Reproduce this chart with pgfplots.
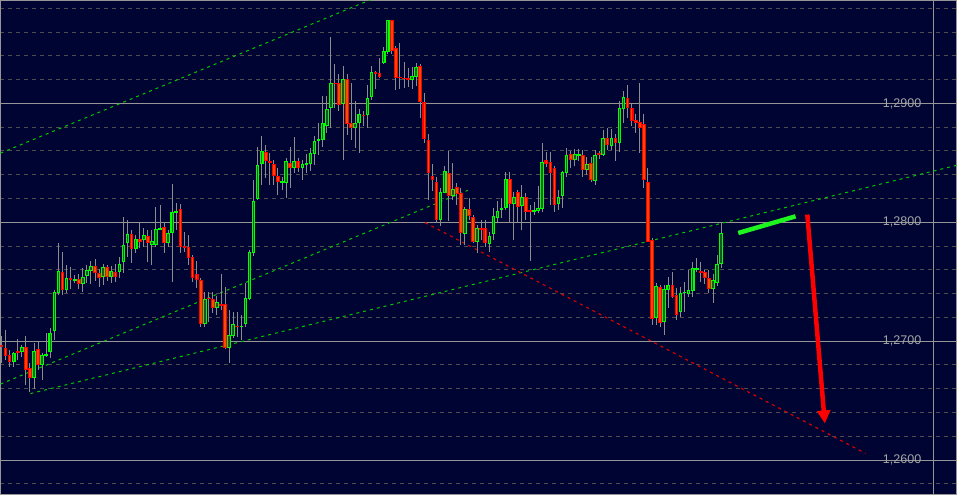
\documentclass[border=0pt]{standalone}
\usepackage{fontspec}
\setmainfont{Liberation Sans}
\usepackage{pgfplots}
\usepackage{pgfplotstable}
\pgfplotsset{compat=1.18}
\usetikzlibrary{arrows.meta}
\definecolor{bgnavy}{RGB}{0,4,50}
\definecolor{gridsolid}{RGB}{150,150,150}
\definecolor{griddash}{RGB}{78,78,78}
\definecolor{wick}{RGB}{140,140,140}
\definecolor{bullline}{RGB}{0,255,0}
\definecolor{bullfill}{RGB}{20,90,30}
\definecolor{bearline}{RGB}{255,0,0}
\definecolor{bearfill}{RGB}{255,75,0}
\definecolor{trendgreen}{RGB}{0,200,0}
\definecolor{trendred}{RGB}{215,0,0}
\definecolor{labelgrey}{RGB}{165,165,165}
\definecolor{markgreen}{RGB}{30,245,30}

\pgfplotstableread{
i o h l c
0 1.26966 1.27042 1.26815 1.26958
1 1.26941 1.27092 1.26840 1.26882
2 1.26882 1.26924 1.26782 1.26832
3 1.26832 1.26908 1.26782 1.26899
4 1.26916 1.27017 1.26840 1.26908
5 1.26916 1.26966 1.26866 1.26950
6 1.26950 1.27042 1.26630 1.26765
7 1.26773 1.26815 1.26571 1.26698
8 1.26698 1.26983 1.26597 1.26916
9 1.26933 1.26992 1.26756 1.26807
10 1.26807 1.26899 1.26672 1.26882
11 1.26882 1.27067 1.26866 1.26891
12 1.26916 1.27109 1.26857 1.27067
13 1.27092 1.27429 1.27008 1.27412
14 1.27412 1.27824 1.27387 1.27588
15 1.27580 1.27748 1.27387 1.27437
16 1.27437 1.27639 1.27403 1.27529
17 1.27529 1.27622 1.27437 1.27525
18 1.27517 1.27555 1.27487 1.27521
19 1.27521 1.27563 1.27437 1.27487
20 1.27487 1.27613 1.27412 1.27538
21 1.27555 1.27639 1.27487 1.27597
22 1.27597 1.27672 1.27479 1.27630
23 1.27630 1.27689 1.27504 1.27580
24 1.27571 1.27605 1.27454 1.27538
25 1.27546 1.27647 1.27471 1.27622
26 1.27622 1.27639 1.27504 1.27546
27 1.27546 1.27630 1.27487 1.27588
28 1.27580 1.27647 1.27496 1.27546
29 1.27588 1.27706 1.27529 1.27647
30 1.27672 1.28042 1.27571 1.27807
31 1.27832 1.28017 1.27706 1.27899
32 1.27899 1.27933 1.27656 1.27782
33 1.27782 1.27891 1.27740 1.27857
34 1.27857 1.27992 1.27782 1.27840
35 1.27857 1.27950 1.27790 1.27891
36 1.27882 1.27933 1.27664 1.27832
37 1.27815 1.27933 1.27639 1.27840
38 1.27815 1.28126 1.27790 1.27941
39 1.27941 1.28143 1.27933 1.27950
40 1.27958 1.28000 1.27740 1.27832
41 1.27832 1.27933 1.27790 1.27908
42 1.27916 1.28319 1.27496 1.28084
43 1.28086 1.28160 1.27933 1.28092
44 1.28109 1.28151 1.27740 1.27798
45 1.27798 1.27916 1.27748 1.27790
46 1.27790 1.27891 1.27639 1.27706
47 1.27706 1.27723 1.27496 1.27538
48 1.27563 1.27672 1.27445 1.27521
49 1.27513 1.27529 1.27118 1.27151
50 1.27151 1.27412 1.27118 1.27353
51 1.27361 1.27412 1.27160 1.27357
52 1.27353 1.27412 1.27235 1.27286
53 1.27286 1.27378 1.27218 1.27328
54 1.27311 1.27563 1.27260 1.27303
55 1.27311 1.27454 1.26933 1.26950
56 1.26950 1.27260 1.26815 1.27050
57 1.27050 1.27244 1.27025 1.27143
58 1.27126 1.27244 1.27034 1.27122
59 1.27122 1.27218 1.27008 1.27126
60 1.27151 1.27487 1.27118 1.27361
61 1.27361 1.27765 1.27345 1.27748
62 1.27748 1.28353 1.27714 1.28176
63 1.28202 1.28630 1.28185 1.28479
64 1.28496 1.28723 1.28311 1.28597
65 1.28588 1.28647 1.28370 1.28521
66 1.28508 1.28580 1.28311 1.28504
67 1.28487 1.28521 1.28311 1.28395
68 1.28387 1.28454 1.28227 1.28345
69 1.28340 1.28378 1.28269 1.28345
70 1.28336 1.28538 1.28202 1.28513
71 1.28496 1.28630 1.28286 1.28462
72 1.28462 1.28723 1.28420 1.28513
73 1.28513 1.28546 1.28420 1.28462
74 1.28462 1.28521 1.28353 1.28487
75 1.28492 1.28571 1.28412 1.28496
76 1.28496 1.28630 1.28437 1.28580
77 1.28580 1.28731 1.28479 1.28681
78 1.28693 1.28832 1.28563 1.28697
79 1.28697 1.29059 1.28630 1.28832
80 1.28815 1.29059 1.28748 1.28950
81 1.28966 1.29563 1.28798 1.29168
82 1.29172 1.29336 1.28966 1.29168
83 1.29168 1.29244 1.28941 1.28992
84 1.29000 1.29319 1.28521 1.29202
85 1.29202 1.29244 1.28731 1.28832
86 1.28832 1.29176 1.28689 1.28798
87 1.28798 1.29017 1.28622 1.28832
88 1.28840 1.28958 1.28588 1.28908
89 1.28903 1.28941 1.28815 1.28899
90 1.28908 1.29160 1.28798 1.29042
91 1.29059 1.29319 1.29025 1.29260
92 1.29260 1.29277 1.29126 1.29256
93 1.29252 1.29378 1.29210 1.29227
94 1.29345 1.29479 1.29336 1.29437
95 1.29437 1.29706 1.29420 1.29697
96 1.29697 1.29706 1.29420 1.29445
97 1.29462 1.29479 1.29109 1.29218
98 1.29223 1.29513 1.29126 1.29218
99 1.29214 1.29353 1.29134 1.29210
100 1.29210 1.29303 1.29143 1.29206
101 1.29202 1.29303 1.29126 1.29227
102 1.29227 1.29345 1.29151 1.29303
103 1.29311 1.29336 1.28882 1.29017
104 1.29008 1.29092 1.28664 1.28706
105 1.28689 1.28748 1.28185 1.28420
106 1.28387 1.28496 1.28269 1.28361
107 1.28336 1.28378 1.27992 1.28025
108 1.28025 1.28286 1.27966 1.28252
109 1.28252 1.28471 1.28244 1.28429
110 1.28412 1.28597 1.28008 1.28227
111 1.28227 1.28496 1.28185 1.28277
112 1.28294 1.28328 1.28143 1.28244
113 1.28244 1.28286 1.27807 1.27916
114 1.27908 1.28126 1.27807 1.28109
115 1.28109 1.28202 1.28017 1.28059
116 1.28042 1.28059 1.27824 1.27840
117 1.27840 1.27975 1.27740 1.27950
118 1.27950 1.28017 1.27849 1.27945
119 1.27950 1.28017 1.27790 1.27832
120 1.27824 1.27916 1.27748 1.27882
121 1.27908 1.28118 1.27849 1.28050
122 1.28042 1.28176 1.28000 1.28092
123 1.28113 1.28202 1.28034 1.28118
124 1.28126 1.28420 1.28101 1.28361
125 1.28361 1.28420 1.27992 1.28160
126 1.28160 1.28252 1.27849 1.28210
127 1.28252 1.28269 1.27992 1.28134
128 1.28143 1.28311 1.27933 1.28210
129 1.28210 1.28244 1.28017 1.28092
130 1.28097 1.28143 1.27672 1.28092
131 1.28097 1.28168 1.28059 1.28101
132 1.28101 1.28303 1.28076 1.28118
133 1.28118 1.28664 1.28084 1.28504
134 1.28521 1.28588 1.28462 1.28496
135 1.28504 1.28588 1.28143 1.28420
136 1.28454 1.28479 1.28084 1.28151
137 1.28160 1.28269 1.28101 1.28210
138 1.28227 1.28437 1.28118 1.28420
139 1.28420 1.28630 1.28378 1.28563
140 1.28571 1.28605 1.28462 1.28529
141 1.28529 1.28622 1.28479 1.28571
142 1.28567 1.28622 1.28521 1.28571
143 1.28563 1.28605 1.28378 1.28445
144 1.28445 1.28546 1.28395 1.28487
145 1.28496 1.28546 1.28336 1.28361
146 1.28353 1.28605 1.28311 1.28563
147 1.28576 1.28605 1.28538 1.28571
148 1.28571 1.28782 1.28563 1.28706
149 1.28706 1.28790 1.28605 1.28655
150 1.28647 1.28782 1.28605 1.28706
151 1.28706 1.28748 1.28521 1.28672
152 1.28672 1.29025 1.28588 1.28958
153 1.28958 1.29101 1.28840 1.29050
154 1.29042 1.29160 1.28882 1.28966
155 1.28958 1.29000 1.28815 1.28857
156 1.28857 1.28908 1.28756 1.28840
157 1.28840 1.29176 1.28580 1.28798
158 1.28824 1.28908 1.28286 1.28361
159 1.28336 1.28462 1.27832 1.27840
160 1.27849 1.27866 1.27134 1.27193
161 1.27202 1.27487 1.27134 1.27462
162 1.27454 1.27471 1.27118 1.27160
163 1.27168 1.27471 1.27050 1.27437
164 1.27437 1.27538 1.27277 1.27471
165 1.27471 1.27580 1.27361 1.27378
166 1.27387 1.27445 1.27176 1.27227
167 1.27252 1.27454 1.27202 1.27403
168 1.27408 1.27496 1.27244 1.27412
169 1.27403 1.27597 1.27370 1.27429
170 1.27429 1.27664 1.27370 1.27613
171 1.27609 1.27697 1.27580 1.27613
172 1.27588 1.27664 1.27496 1.27584
173 1.27580 1.27597 1.27487 1.27538
174 1.27529 1.27597 1.27403 1.27445
175 1.27445 1.27563 1.27319 1.27513
176 1.27496 1.27723 1.27462 1.27647
177 1.27655 1.28008 1.27613 1.27908
}\candles

\begin{document}
\begin{tikzpicture}
\begin{axis}[
  scale only axis, width=957bp, height=495bp,
  xmin=-0.2457, xmax=234.89, ymin=1.25706, ymax=1.29866,
  axis background/.style={fill=bgnavy},
  axis line style={draw=gridsolid, line width=1bp},
  xtick=\empty,
  ytick={1.26,1.27,1.28,1.29},
  minor ytick={1.258,1.262,1.264,1.266,1.268,1.272,1.274,1.276,1.278,1.282,1.284,1.286,1.288,1.292,1.294,1.296,1.298},
  ymajorgrids, yminorgrids,
  major grid style={draw=gridsolid, line width=1bp},
  minor grid style={draw=griddash, line width=1bp, dash pattern=on 4bp off 4bp},
  major tick length=0pt, minor tick length=0pt,
  yticklabel pos=right,
  yticklabel style={anchor=east, inner sep=0pt, xshift=-35bp, text=labelgrey,
    font=\fontsize{12.6}{14}\selectfont,
    /pgf/number format/fixed, /pgf/number format/fixed zerofill,
    /pgf/number format/precision=4, /pgf/number format/use comma,
    /pgf/number format/assume math mode=true},
]
% right separator line
\addplot[draw=gridsolid, line width=1bp] coordinates {(229.24,1.25) (229.24,1.30)};
% trend lines
\addplot[trendgreen, line width=1bp, dash pattern=on 3bp off 4bp] coordinates {(-0.246,1.28582) (98.0,1.29975)};
\addplot[trendgreen, line width=1bp, dash pattern=on 3bp off 4bp] coordinates {(-0.246,1.26639) (114.7,1.28269)};
\addplot[trendgreen, line width=1bp, dash pattern=on 3bp off 4bp] coordinates {(7.13,1.26559) (234.9,1.28479)};
\addplot[trendred, line width=1.2bp, dash pattern=on 3bp off 4bp] coordinates {(104.2,1.27997) (212.5,1.26056)};
% wicks
\addplot[draw=none, mark=none, error bars/.cd, y dir=both, y explicit, error mark=none,
  error bar style={draw=wick, line width=1bp, solid}]
  table[x=i, y expr={(\thisrow{h}+\thisrow{l})/2}, y error expr={(\thisrow{h}-\thisrow{l})/2}] {\candles};
% bullish bodies
\addplot[draw=none, mark=none, error bars/.cd, y dir=both, y explicit, error mark=none,
  error bar style={draw=bullline, line width=3.7bp, solid}]
  table[x=i, y expr={\thisrow{c}>=\thisrow{o} ? (\thisrow{o}+\thisrow{c})/2 : nan},
        y error expr={abs(\thisrow{c}-\thisrow{o})/2+0.000045}] {\candles};
\addplot[draw=none, mark=none, error bars/.cd, y dir=both, y explicit, error mark=none,
  error bar style={draw=bullfill, line width=1.5bp, solid}]
  table[x=i, y expr={\thisrow{c}>=\thisrow{o} ? (\thisrow{o}+\thisrow{c})/2 : nan},
        y error expr={max(abs(\thisrow{c}-\thisrow{o})/2-0.000045,0)}] {\candles};
% bearish bodies
\addplot[draw=none, mark=none, error bars/.cd, y dir=both, y explicit, error mark=none,
  error bar style={draw=bearline, line width=3.7bp, solid}]
  table[x=i, y expr={\thisrow{c}<\thisrow{o} ? (\thisrow{o}+\thisrow{c})/2 : nan},
        y error expr={abs(\thisrow{c}-\thisrow{o})/2+0.000045}] {\candles};
\addplot[draw=none, mark=none, error bars/.cd, y dir=both, y explicit, error mark=none,
  error bar style={draw=bearfill, line width=1.6bp, solid}]
  table[x=i, y expr={\thisrow{c}<\thisrow{o} ? (\thisrow{o}+\thisrow{c})/2 : nan},
        y error expr={max(abs(\thisrow{c}-\thisrow{o})/2-0.000045,0)}] {\candles};
% annotations
\addplot[markgreen, line width=4.5bp] coordinates {(181.2,1.27910) (195.3,1.28050)};
\addplot[bearline, line width=4.5bp, -{Triangle[width=13bp,length=13bp]}] coordinates {(198.2,1.28065) (202.5,1.26308)};
\end{axis}
\end{tikzpicture}
\end{document}
